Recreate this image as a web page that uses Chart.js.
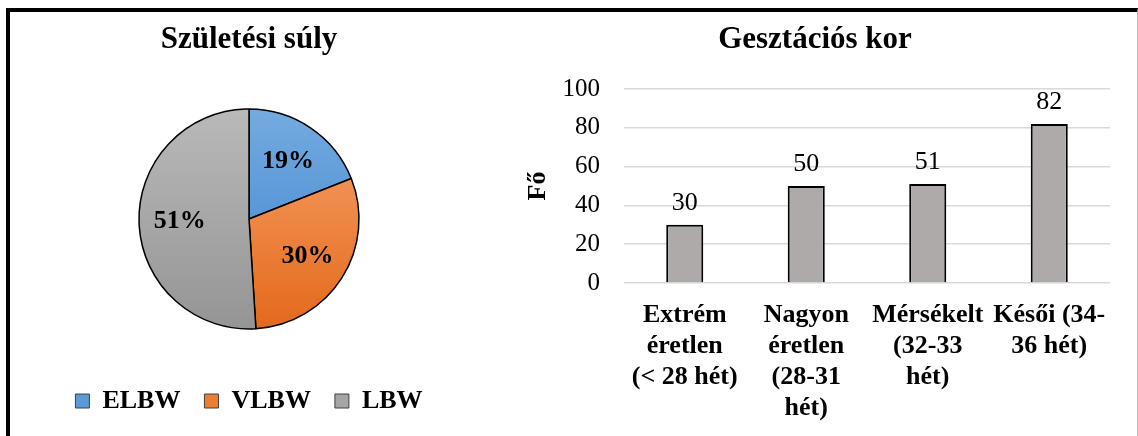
<!DOCTYPE html>
<html>
<head>
<meta charset="utf-8">
<script src="https://cdn.jsdelivr.net/npm/chart.js@4.4.0/dist/chart.umd.min.js"></script>
<style>
  body { margin: 0; background: #fff; width: 1138px; height: 436px; overflow: hidden; position: relative; }
  .frame { position: absolute; left: 6px; top: 8px; width: 1127px; height: 440px; border-top: 4px solid #000; border-left: 4px solid #000; border-right: 1px solid #bdbdbd; }
  #pie { position: absolute; left: 0; top: 0; }
  #bar { position: absolute; left: 520px; top: 0; }
</style>
</head>
<body>
<div class="frame"></div>
<canvas id="pie" width="498" height="436"></canvas>
<canvas id="bar" width="616" height="436"></canvas>
<script>
// pie: birth weight groups, shares in %
const weightLabels = ['ELBW', 'VLBW', 'LBW'];
const weightShares = [19, 30, 51];
const weightColors = ['#5b9bd5', '#ed7d31', '#a5a5a5'];

// bars: gestational age groups, head count
const ageLabels = [
  ['Extrém', 'éretlen', '(< 28 hét)'],
  ['Nagyon', 'éretlen', '(28-31', 'hét)'],
  ['Mérsékelt', '(32-33', 'hét)'],
  ['Késői (34-', '36 hét)']
];
const ageCounts = [30, 50, 51, 82];
const yMax = 100;
const yStep = 20;

Chart.defaults.font.family = '"Liberation Serif", "Times New Roman", serif';
Chart.defaults.color = '#000';

// light at the top, darker at the bottom, like the office gradient fill
const gradStops = [
  ['#74abe0', '#3b82cc'],
  ['#f7a36e', '#e4691a'],
  ['#b9b9b9', '#959595']
];
function sliceFill(ctx) {
  const area = ctx.chart.chartArea;
  if (!area) return weightColors[ctx.dataIndex];
  const cy = (area.top + area.bottom) / 2;
  const g = ctx.chart.ctx.createLinearGradient(0, cy - 110, 0, cy + 110);
  g.addColorStop(0, gradStops[ctx.dataIndex][0]);
  g.addColorStop(1, gradStops[ctx.dataIndex][1]);
  return g;
}

const pieLabels = {
  id: 'pieLabels',
  afterDatasetsDraw(chart) {
    const ctx = chart.ctx;
    const meta = chart.getDatasetMeta(0);
    ctx.save();
    ctx.font = 'bold 26px "Liberation Serif"';
    ctx.fillStyle = '#000';
    ctx.textAlign = 'center';
    ctx.textBaseline = 'middle';
    meta.data.forEach((arc, i) => {
      const p = arc.getProps(['x', 'y', 'startAngle', 'endAngle', 'outerRadius'], true);
      const mid = (p.startAngle + p.endAngle) / 2;
      const r = p.outerRadius * 0.63;
      ctx.fillText(weightShares[i] + '%', p.x + Math.cos(mid) * r, p.y + Math.sin(mid) * r);
    });
    ctx.restore();
  }
};

new Chart(document.getElementById('pie'), {
  type: 'pie',
  data: {
    labels: weightLabels,
    datasets: [{
      data: weightShares,
      backgroundColor: sliceFill,
      borderColor: '#000',
      borderWidth: 1.5,
      radius: 110
    }]
  },
  options: {
    responsive: false,
    animation: false,
    layout: { padding: { top: 0, bottom: 12, left: 0, right: 0 } },
    plugins: {
      title: {
        display: true,
        text: 'Születési súly',
        font: { size: 31, weight: 'bold' },
        color: '#000',
        padding: { top: 21.4, bottom: 15.4 }
      },
      legend: {
        position: 'bottom',
        labels: {
          boxWidth: 14,
          boxHeight: 14,
          padding: 24,
          color: '#000',
          font: { size: 26, weight: 'bold' },
          generateLabels(chart) {
            const items = Chart.overrides.pie.plugins.legend.labels.generateLabels(chart);
            items.forEach((it, i) => { it.fillStyle = weightColors[i]; it.strokeStyle = '#404040'; it.lineWidth = 1; });
            return items;
          }
        }
      },
      tooltip: { enabled: false }
    }
  },
  plugins: [pieLabels]
});

const barValues = {
  id: 'barValues',
  afterDatasetsDraw(chart) {
    const ctx = chart.ctx;
    const meta = chart.getDatasetMeta(0);
    ctx.save();
    ctx.font = '26px "Liberation Serif"';
    ctx.fillStyle = '#000';
    ctx.textAlign = 'center';
    ctx.textBaseline = 'alphabetic';
    meta.data.forEach((bar, i) => {
      ctx.fillText(String(ageCounts[i]), bar.x, bar.y - 15);
    });
    ctx.restore();
  }
};

new Chart(document.getElementById('bar'), {
  type: 'bar',
  data: {
    labels: ageLabels,
    datasets: [{
      data: ageCounts,
      backgroundColor: '#aeaaaa',
      borderColor: '#000',
      borderWidth: 2,
      barPercentage: 0.305,
      categoryPercentage: 1
    }]
  },
  options: {
    responsive: false,
    animation: false,
    layout: { padding: { left: 0, right: 26, top: 0, bottom: 13 } },
    scales: {
      x: {
        grid: { display: false, drawTicks: false },
        border: { display: false },
        ticks: {
          color: '#000',
          font: { size: 26, weight: 'bold', lineHeight: 1.19 },
          padding: 16.5,
          maxRotation: 0,
          minRotation: 0,
          autoSkip: false
        },
        afterFit(axis) { axis.height = 140; }
      },
      y: {
        min: 0,
        max: yMax,
        grid: { color: '#d9d9d9', lineWidth: 1.5, drawTicks: false },
        border: { display: false },
        ticks: {
          stepSize: yStep,
          color: '#000',
          font: { size: 25 },
          padding: 24
        },
        title: {
          display: true,
          text: 'Fő',
          color: '#000',
          font: { size: 26, weight: 'bold' },
          padding: { top: 2.4, bottom: 0 }
        },
        afterFit(axis) { axis.width = 104; }
      }
    },
    plugins: {
      title: {
        display: true,
        text: 'Gesztációs kor',
        font: { size: 31, weight: 'bold' },
        color: '#000',
        padding: { top: 21.4, bottom: 30.4 }
      },
      legend: { display: false },
      tooltip: { enabled: false }
    }
  },
  plugins: [barValues]
});
</script>
</body>
</html>
